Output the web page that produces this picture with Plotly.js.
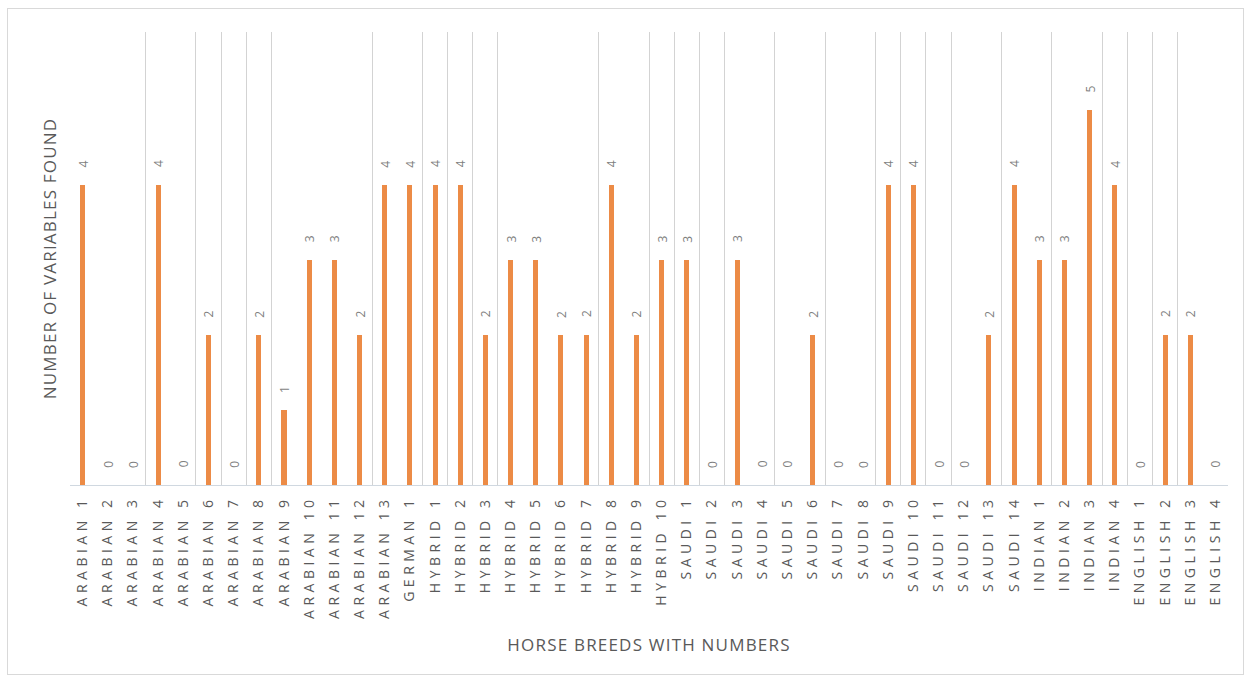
<!DOCTYPE html>
<html>
<head>
<meta charset="utf-8">
<script src="https://cdn.plot.ly/plotly-3.0.1.min.js"></script>
<style>
  html, body { margin: 0; padding: 0; background: #ffffff; }
  #frame { position: absolute; left: 7px; top: 8px; width: 1237px; height: 667px; border: 1px solid #d9d9d9; box-sizing: border-box; }
  #chart { position: absolute; left: 0; top: 0; width: 1251px; height: 683px; }
</style>
</head>
<body>
<div id="frame"></div>
<div id="chart"></div>
<script>
// ---- data ----
const breeds = [
  "ARABIAN 1","ARABIAN 2","ARABIAN 3","ARABIAN 4","ARABIAN 5","ARABIAN 6","ARABIAN 7",
  "ARABIAN 8","ARABIAN 9","ARABIAN 10","ARABIAN 11","ARABIAN 12","ARABIAN 13",
  "GERMAN 1",
  "HYBRID 1","HYBRID 2","HYBRID 3","HYBRID 4","HYBRID 5","HYBRID 6","HYBRID 7",
  "HYBRID 8","HYBRID 9","HYBRID 10",
  "SAUDI 1","SAUDI 2","SAUDI 3","SAUDI 4","SAUDI 5","SAUDI 6","SAUDI 7","SAUDI 8",
  "SAUDI 9","SAUDI 10","SAUDI 11","SAUDI 12","SAUDI 13","SAUDI 14",
  "INDIAN 1","INDIAN 2","INDIAN 3","INDIAN 4",
  "ENGLISH 1","ENGLISH 2","ENGLISH 3","ENGLISH 4"
];
const variablesFound = [
  4,0,0,4,0,2,0,2,1,3,3,2,4,
  4,
  4,4,2,3,3,2,2,4,2,3,
  3,0,3,0,0,2,0,0,4,4,0,0,2,4,
  3,3,5,4,
  0,2,2,0
];
// category boundaries (after index) where a vertical gridline is visible
const gridAfter = [2,4,5,6,7,11,13,14,15,16,20,22,23,24,25,27,29,31,32,33,34,36,38,40,41,42,43,45];

const xTitle = "HORSE BREEDS WITH NUMBERS";
const yTitle = "NUMBER OF VARIABLES FOUND";

const grey = "#595959";
const fam = "Open Sans, DejaVu Sans, sans-serif";

const bars = {
  type: "bar",
  x: breeds,
  y: variablesFound,
  width: 0.2,
  marker: { color: "#EC8B46" },
  hoverinfo: "x+y",
  showlegend: false
};
const gridHolder = {
  type: "scatter", x: [], y: [], xaxis: "x2", yaxis: "y",
  mode: "markers", showlegend: false, hoverinfo: "skip"
};

const labelAnnots = breeds.map((b, i) => ({
  x: b, y: variablesFound[i], xref: "x", yref: "y",
  text: String(variablesFound[i]),
  showarrow: false, textangle: -90,
  xanchor: "center", yanchor: "middle", yshift: 21,
  font: { family: fam, size: 12, color: "#7f7f7f" }
}));

const layout = {
  width: 1251, height: 683,
  margin: { l: 70, r: 23, t: 32, b: 198 },
  paper_bgcolor: "rgba(0,0,0,0)",
  plot_bgcolor: "rgba(0,0,0,0)",
  bargap: 0,
  xaxis: {
    type: "category",
    tickangle: -90,
    showgrid: false,
    showline: true, linecolor: "#d0d8e0", linewidth: 1,
    ticks: "",
    ticklabelstandoff: 4,
    tickfont: { family: fam, size: 14, color: grey },
    title: { text: xTitle, standoff: 66,
             font: { family: fam, size: 17, color: grey } }
  },
  xaxis2: {
    type: "linear", overlaying: "x", range: [-0.5, breeds.length - 0.5],
    tickvals: gridAfter.map(i => i + 0.5),
    showticklabels: false, ticks: "", showgrid: true,
    gridcolor: "#d3d3d3", gridwidth: 1, zeroline: false, showline: false
  },
  yaxis: {
    range: [0, 6.04],
    showgrid: false, zeroline: false, showticklabels: false, ticks: "", showline: false,
    title: { text: yTitle, standoff: 8,
             font: { family: fam, size: 17, color: grey } }
  },
  annotations: labelAnnots
};

Plotly.newPlot("chart", [bars, gridHolder], layout, { displayModeBar: false, responsive: false }).then(() => {
  document.querySelectorAll("#chart .xtick text").forEach(t => { t.style.letterSpacing = "4.5px"; });
  document.querySelectorAll("#chart .g-xtitle text, #chart .g-ytitle text").forEach(t => { t.style.letterSpacing = "1.2px"; });
});
</script>
</body>
</html>
